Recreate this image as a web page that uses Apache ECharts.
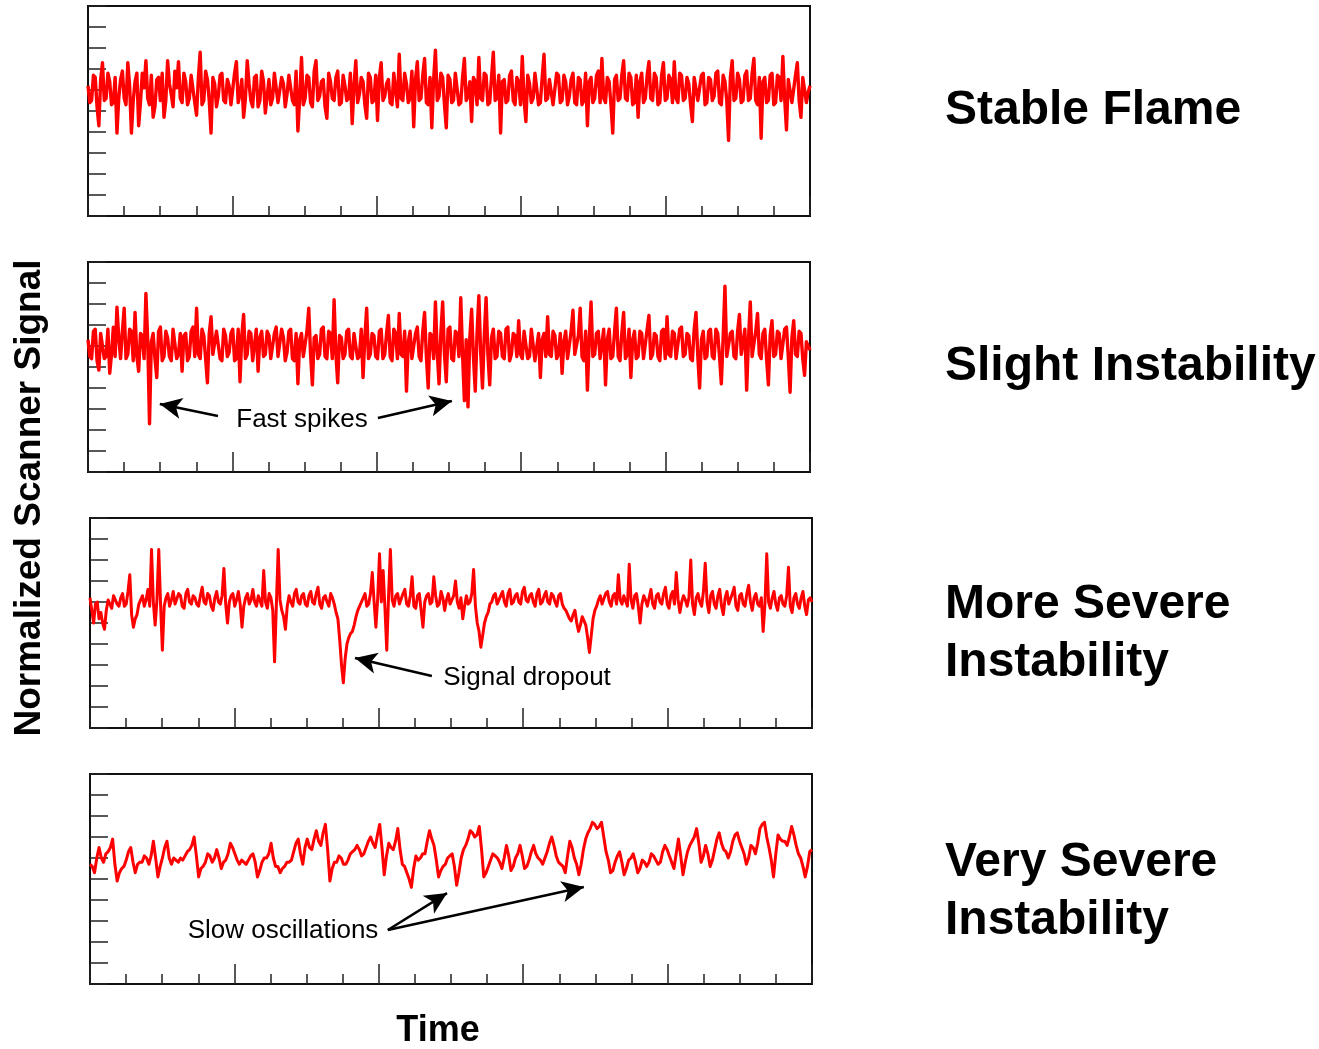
<!DOCTYPE html>
<html>
<head>
<meta charset="utf-8">
<script src="https://cdn.jsdelivr.net/npm/echarts@6/dist/echarts.min.js"></script>
<style>
  html, body { margin: 0; padding: 0; background: #fff; }
  #chart { width: 1319px; height: 1049px; }
</style>
</head>
<body>
<div id="chart"></div>
<script>
// panel names (right hand labels)
const panelNames = ["Stable Flame", "Slight Instability", "More Severe\nInstability", "Very Severe\nInstability"];
const yTitle = "Normalized Scanner Signal";
const xTitle = "Time";

// signal traces (normalized units, 0..10 scale)
// the *Mid arrays are readings taken between the main samples
const stable = [
  6.2,5.5,6.6,4.3,7.3,5.6,6.4,5.4,3.95,6.5, 5.6,7.3,3.95,6.4,4.3,6.8,7.4,5.3,4.7,6.5,
  5.5,4.7,7.4,5.8,6.9,7.35,5.4,6.4,5.6,6.7, 4.8,7.8,5.5,6.5,3.95,6.3,5.7,6.8,5.4,6.2,
  5.3,7.35,5.8,4.7,7.4,5.5,6.6,5.2,6.9,4.9, 6.5,5.6,6.8,5.4,6.3,5.8,6.7,5.3,4.05,7.55,
  5.6,6.6,5.2,7.4,5.7,6.5,4.65,6.4,5.5,6.9, 5.4,6.2,5.6,4.4,7.4,5.8,6.4,4.65,6.6,5.5,
  4.55,7.3,5.7,6.5,5.3,6.8,7.7,5.5,6.3,5.6, 4.25,7.35,5.6,7.5,5.3,4.2,7.9,5.7,6.6,4.2,
  6.5,5.5,6.8,5.4,7.5,5.7,4.5,6.4,7.55,5.5, 6.7,5.4,7.8,5.6,3.95,6.5,5.5,6.9,5.3,6.4,
  7.6,4.5,6.3,5.6,6.8,5.4,7.7,5.6,6.5,5.3, 6.7,5.5,6.4,5.7,6.8,5.3,6.5,5.5,4.3,6.6,
  5.6,6.9,7.5,5.4,6.4,3.95,6.7,5.6,7.4,5.5, 6.6,5.4,4.7,6.8,5.6,7.35,5.5,6.6,5.4,7.3,
  5.6,6.5,7.35,5.4,6.7,5.6,6.3,4.5,6.6,5.5, 6.8,5.4,6.5,5.7,6.9,5.3,6.4,3.6,7.4,5.6,
  6.5,5.5,6.9,5.6,7.5,5.3,3.7,6.6,5.5,6.8, 5.4,6.6,7.6,4.1,6.5,5.4,7.3,4.7,6.6,5.9
];
const stableMid = [
  5.4,6.7,5.2,6.5,5.5,6.8,5.3,6.6,5.6,6.9, 5.3,6.2,5.5,6.8,5.4,6.1,5.6,6.7,5.2,6.6,
  6.8,5.5,6.3,5.2,6.1,5.6,6.8,5.3,6.7,5.4, 6.6,5.3,6.9,5.5,6.6,5.2,6.7,5.5,6.5,5.3,
  6.8,5.4,6.5,5.6,6.3,5.2,6.7,5.5,6.4,5.7, 5.3,6.8,5.4,6.6,5.2,6.7,5.5,6.9,5.6,5.3,
  6.7,5.4,6.9,5.5,6.4,5.2,6.8,5.6,6.6,5.3, 6.7,5.5,6.8,6.2,5.4,6.6,5.3,6.8,5.4,6.7,
  6.6,5.5,6.3,5.4,6.8,5.2,5.6,6.8,5.4,6.9, 6.5,5.5,6.7,5.4,6.6,6.5,5.5,6.8,5.3,6.7,
  5.4,6.8,5.3,6.6,5.5,6.4,6.6,5.3,5.6,6.8, 5.3,6.6,5.5,6.7,6.4,5.4,6.7,5.5,6.6,5.3,
  5.5,6.7,5.4,6.8,5.3,6.6,5.5,6.5,5.3,6.8, 5.4,6.7,5.3,6.5,5.4,6.6,5.3,6.8,6.4,5.4,
  6.7,5.4,5.6,6.6,5.3,6.5,5.5,6.7,5.6,6.8, 5.3,6.7,6.4,5.4,6.7,5.6,6.8,5.3,6.7,5.5,
  6.7,5.4,5.6,6.8,5.5,6.6,5.3,6.6,5.5,6.7, 5.3,6.6,5.5,6.8,5.4,6.7,5.5,6.6,5.5,6.8,
  5.4,6.7,5.5,6.8,5.5,6.6,6.4,5.4,6.7,5.3, 6.7,5.5,5.6,6.5,5.4,6.7,5.5,6.6,5.4,6.2
];
const slight = [
  6.3,5.4,6.8,4.85,6.6,5.5,4.7,6.9,7.85,5.4, 7.8,5.6,6.7,7.6,4.8,6.5,8.5,2.3,6.6,4.5,
  6.9,5.5,6.4,5.3,6.8,5.6,4.8,6.6,5.5,6.9, 7.8,5.4,6.5,4.25,7.4,5.6,6.7,5.3,6.5,5.7,
  6.8,5.4,4.3,7.5,5.6,6.6,5.3,4.8,6.7,5.6, 6.5,5.4,6.9,5.5,6.4,5.7,6.8,5.3,4.2,6.6,
  5.5,7.8,4.15,6.5,5.6,6.9,5.4,6.6,8.2,4.25, 6.4,5.6,6.8,5.4,6.6,5.5,4.5,7.8,5.6,6.5,
  5.4,6.8,5.6,7.45,5.3,6.6,7.55,5.5,3.85,6.7, 5.4,6.9,5.3,7.6,4.0,6.5,8.1,4.2,8.1,4.3,
  6.9,5.3,6.6,8.3,3.4,3.1,7.75,3.85,8.4,4.0, 8.3,4.15,6.8,5.5,6.6,5.4,6.9,5.6,6.5,7.2,
  5.4,6.7,5.5,6.8,5.3,4.5,6.6,7.4,5.5,6.5, 5.6,4.7,6.7,5.4,7.7,5.6,7.8,5.3,3.9,8.1,
  5.6,6.7,5.4,4.15,6.8,5.5,7.8,5.3,7.6,5.6, 4.5,6.7,5.5,6.6,5.4,7.45,5.6,6.5,5.3,6.8,
  7.4,5.5,6.6,5.4,6.9,5.6,6.5,5.3,7.6,4.0, 6.7,5.5,6.8,5.4,6.6,4.2,8.85,5.5,6.7,5.4,
  7.5,5.6,3.9,8.1,5.5,7.55,5.4,6.8,4.15,7.2, 5.6,6.6,5.4,6.9,3.8,7.2,5.5,6.6,4.6,6.0
];
const slightMid = [
  5.5,6.7,5.3,6.6,5.4,6.8,5.6,5.5,6.4,6.7, 5.4,6.8,5.3,5.5,6.6,5.4,6.3,6.2,5.4,6.7,
  5.3,6.7,5.5,6.8,5.4,6.6,6.5,5.3,6.7,5.5, 5.6,6.8,5.4,6.6,5.6,6.7,5.4,6.8,5.5,6.6,
  5.3,6.8,6.5,5.4,6.7,5.3,6.8,6.4,5.5,6.7, 5.4,6.6,5.5,6.8,5.3,6.7,5.4,6.6,6.3,5.5,
  6.7,5.6,6.4,5.4,6.8,5.5,6.7,5.4,5.6,6.5, 5.4,6.7,5.5,6.6,5.4,6.8,6.4,5.4,6.6,5.5,
  6.7,5.4,6.6,5.5,6.8,5.4,5.6,6.7,6.2,5.4, 6.6,5.5,6.7,5.5,6.6,5.4,5.7,6.6,5.6,6.8,
  5.4,6.7,5.5,5.6,6.3,6.4,5.5,6.6,5.7,6.5, 5.6,6.4,5.4,6.7,5.5,6.8,5.3,6.6,5.5,5.6,
  6.7,5.4,6.8,5.3,6.6,6.3,5.5,5.6,6.7,5.4, 6.6,6.2,5.4,6.7,5.6,6.5,5.5,6.7,6.3,5.5,
  6.6,5.4,6.8,6.3,5.4,6.7,5.5,6.6,5.4,6.8, 6.3,5.4,6.7,5.4,6.8,5.4,6.6,5.5,6.7,5.4,
  5.6,6.7,5.4,6.8,5.5,6.6,5.4,6.8,5.5,6.3, 5.4,6.7,5.5,6.8,5.5,6.4,5.5,6.6,5.5,6.7,
  5.6,6.8,6.3,5.5,6.7,5.6,6.6,5.4,6.5,5.5, 6.7,5.4,6.8,5.5,6.4,5.6,6.7,5.4,6.2,5.8
];
const severe = [
  6.2,5.0,6.0,5.5,4.7,6.1,5.7,6.3,5.8,6.4, 5.9,7.3,4.8,5.4,6.1,5.8,6.6,8.5,4.9,8.5,
  3.7,6.2,5.8,6.5,5.9,6.3,5.7,6.6,5.9,6.2, 5.8,6.7,5.9,6.3,5.6,6.5,5.9,7.6,5.0,6.3,
  5.8,6.5,4.8,6.2,5.9,6.6,5.8,6.3,7.5,5.7, 6.2,3.15,8.5,5.6,4.7,6.3,5.8,6.6,5.9,6.4,
  5.8,6.5,5.9,6.7,5.7,6.3,5.8,6.2,5.5,4.2, 2.15,4.0,4.5,4.9,5.6,6.0,6.4,5.9,7.4,4.8,
  8.3,7.5,3.7,8.5,5.8,6.4,5.9,6.6,5.8,7.2, 5.7,6.4,4.8,6.3,5.9,7.2,5.8,6.5,5.6,6.4,
  5.9,7.0,5.7,5.2,6.3,6.0,7.55,5.0,3.85,5.0, 5.5,6.0,6.4,5.9,6.5,5.8,6.6,6.0,6.4,5.9,
  6.7,6.0,6.4,5.8,6.6,6.0,6.5,5.9,6.3,5.8, 6.4,5.7,5.4,5.1,5.6,4.6,5.3,4.9,3.6,5.2,
  5.8,6.3,5.9,6.5,5.8,6.4,7.3,5.9,6.3,7.8, 5.7,6.4,5.0,6.3,5.8,6.6,5.7,6.4,5.9,6.7,
  5.7,6.5,7.4,5.5,6.3,5.8,8.0,5.4,6.4,5.8, 7.85,5.5,6.5,5.7,6.6,5.4,6.5,5.9,6.7,5.6,
  6.4,5.8,6.8,5.6,6.4,5.8,4.6,8.3,5.7,6.5, 5.6,6.3,5.8,7.65,5.5,6.4,5.7,6.5,5.4,6.2
];
const severeMid = [
  5.6,5.9,5.2,5.0,5.6,5.9,6.3,5.9,6.2,5.8, 6.5,5.4,5.2,5.9,6.3,6.1,5.8,6.0,6.1,5.9,
  5.8,6.4,6.1,5.9,6.4,5.8,6.4,6.0,6.3,5.9, 6.3,6.0,6.4,5.8,6.2,6.0,6.3,5.9,6.0,6.4,
  6.1,5.9,5.8,6.4,6.1,6.0,6.3,5.8,6.0,6.4, 5.6,5.9,6.1,5.3,5.8,6.0,6.4,6.0,6.3,5.9,
  6.3,6.0,6.4,5.9,6.2,6.0,6.4,5.9,5.2,3.0, 3.3,4.3,4.6,5.3,5.8,6.2,5.8,6.4,6.0,6.2,
  6.0,5.7,6.3,6.1,6.3,5.9,6.4,5.9,6.3,5.8, 6.3,5.6,6.0,6.4,6.0,6.3,5.9,6.2,6.1,5.9,
  6.3,6.0,6.2,5.8,5.9,6.4,5.8,4.6,4.4,5.3, 5.9,6.3,5.9,6.3,6.0,6.4,5.9,6.3,6.0,6.5,
  6.1,6.3,6.0,6.4,5.9,6.3,6.0,6.4,6.0,6.3, 5.9,5.6,5.2,5.4,5.0,4.9,5.1,4.3,4.4,5.6,
  6.1,5.9,6.4,6.0,6.3,5.9,6.1,6.3,5.8,6.1, 6.3,5.8,5.9,6.1,6.2,5.9,6.3,6.0,6.4,5.9,
  6.3,5.9,6.1,6.0,6.1,6.2,5.9,6.2,6.0,6.5, 6.0,6.3,5.9,6.3,5.8,6.2,5.9,6.4,5.8,6.3,
  5.9,6.4,6.0,6.2,5.9,6.2,5.9,6.0,6.2,5.9, 6.2,5.9,6.3,5.8,6.2,5.9,6.2,5.8,6.1,6.0
];
const verySevere = [
  5.7,5.3,6.5,5.8,6.3,6.9,4.9,5.5,5.9,6.5, 5.3,5.8,6.1,5.7,6.8,5.1,6.0,6.8,5.7,5.9,
  6.0,6.1,6.4,7.0,5.1,5.6,6.2,5.8,6.4,5.5, 5.9,6.7,6.2,5.7,5.8,5.9,6.2,5.1,5.8,6.0,
  6.7,5.6,5.3,5.6,5.8,6.3,6.9,5.7,6.9,6.4, 7.3,6.6,7.6,4.9,5.8,6.1,5.7,5.9,6.3,6.6,
  6.1,6.5,7.0,6.5,7.6,5.2,6.7,6.4,7.4,5.7, 5.3,4.6,6.1,6.0,6.2,7.3,6.6,5.1,5.6,6.0,
  6.2,4.7,6.0,6.6,7.3,7.0,7.5,5.1,5.6,6.2, 6.0,5.5,6.6,5.4,6.0,6.6,5.5,5.9,6.6,6.0,
  5.7,6.3,7.0,6.1,5.7,5.3,6.8,6.0,5.2,6.4, 7.2,7.7,7.4,7.7,6.3,5.3,5.8,6.3,5.2,5.9,
  6.2,5.3,5.9,5.6,6.2,5.9,5.8,6.6,6.1,5.5, 6.9,5.2,6.3,6.8,7.4,5.8,6.6,5.6,6.4,7.2,
  6.4,6.0,6.8,7.2,6.5,5.7,6.6,6.2,7.4,7.7, 6.5,5.1,7.1,6.8,6.6,7.5,6.6,6.0,5.1,6.3
];
const verySevereMid = [
  5.6,6.0,6.0,6.2,6.5,5.7,5.3,5.6,6.3,5.8, 5.7,5.8,6.0,6.1,6.0,5.6,6.5,6.0,6.0,5.8,
  5.9,6.3,6.6,6.1,5.5,5.8,6.1,6.0,6.0,5.8, 6.2,6.5,5.9,5.9,5.7,6.1,5.8,5.4,6.0,6.2,
  6.0,5.6,5.5,5.8,5.9,6.7,6.2,6.5,6.5,6.9, 6.8,7.2,6.4,5.5,5.8,6.0,5.7,6.2,6.4,6.4,
  6.2,6.8,6.7,7.1,6.5,6.1,6.5,6.8,6.4,5.6, 5.0,5.5,5.9,6.2,6.8,6.9,5.9,5.4,5.7,6.1,
  5.6,5.3,6.4,6.9,7.2,7.1,6.4,5.3,5.9,6.1, 5.8,6.0,6.1,5.6,6.2,6.1,5.6,6.3,6.2,5.9,
  6.0,6.7,6.6,5.8,5.6,6.1,6.5,5.7,5.7,6.9, 7.4,7.6,7.5,7.0,5.9,5.4,6.1,5.8,5.5,6.0,
  5.8,5.5,5.8,5.8,6.1,5.7,6.3,6.4,5.8,6.2, 6.1,5.8,6.6,7.0,6.7,6.1,6.2,5.9,6.9,6.7,
  6.3,6.3,7.1,6.8,6.2,6.0,6.5,6.7,7.6,7.0, 5.9,6.2,6.9,6.8,7.0,7.1,6.2,5.6,5.6,6.4
];

// [main samples, in-between samples] per panel
const traces = [[stable, stableMid], [slight, slightMid], [severe, severeMid], [verySevere, verySevereMid]];

// annotation arrows, in data units of each panel: [panel, from, to]
const arrows = [
  [1, [36.0, 2.67], [19.9, 3.24]],
  [1, [80.3, 2.57], [100.8, 3.38]],
  [2, [94.7, 2.48], [73.4, 3.33]],
  [3, [82.5, 2.57], [98.9, 4.33]],
  [3, [82.5, 2.57], [136.8, 4.62]]
];

const chart = echarts.init(document.getElementById("chart"), null, { renderer: "canvas" });

const panelBoxes = [
  { left: 88, top: 6 },
  { left: 88, top: 262 },
  { left: 90, top: 518 },
  { left: 90, top: 774 }
];
const lineWidths = [3.4, 3.4, 3, 3];

const grid = panelBoxes.map(b => ({
  left: b.left, top: b.top, width: 722, height: 210,
  show: true, borderColor: "#111", borderWidth: 2, backgroundColor: "#fff"
}));

const xAxis = traces.map((_, k) => ({
  type: "value", gridIndex: k, min: 0, max: 200, interval: 40,
  axisLine: { show: false },
  axisLabel: { show: false },
  splitLine: { show: false },
  axisTick: { show: true, inside: true, length: 20, lineStyle: { color: "#222", width: 1.5 } },
  minorTick: { show: true, splitNumber: 4, length: 10, lineStyle: { color: "#222", width: 1.5 } }
}));

const yAxis = traces.map((_, k) => ({
  type: "value", gridIndex: k, min: 0, max: 10, interval: 1,
  axisLine: { show: false },
  axisLabel: { show: false },
  splitLine: { show: false },
  axisTick: { show: true, inside: true, length: 18, lineStyle: { color: "#222", width: 1.5 } }
}));

function merge(main, mid) {
  const out = [];
  main.forEach((v, i) => { out.push(v); out.push(mid[i]); });
  return out;
}

const series = traces.map(([main, mid], k) => {
  const vals = merge(main, mid);
  const n = vals.length;
  return {
    type: "line",
    xAxisIndex: k, yAxisIndex: k,
    data: vals.map((v, i) => [i * 200 / (n - 1), v]),
    showSymbol: false,
    animation: false,
    lineStyle: { color: "#ff0000", width: lineWidths[k], join: "round" },
    markLine: {
      silent: true,
      animation: false,
      symbol: ["none", "arrow"],
      symbolSize: [16, 22],
      label: { show: false },
      lineStyle: { color: "#000", width: 2.5, type: "solid" },
      data: arrows.filter(a => a[0] === k).map(a => [{ coord: a[1] }, { coord: a[2] }])
    }
  };
});

const font = "'Liberation Sans', Arial, sans-serif";
const labelY = [111, 367, 634, 892];
const graphic = [];
panelNames.forEach((name, k) => {
  graphic.push({
    type: "text", left: 945, top: labelY[k] - (name.includes("\n") ? 58 : 29),
    style: { text: name, font: "bold 48px " + font, fill: "#000", lineHeight: 58 }
  });
});
graphic.push(
  { type: "text", x: 30, y: 498, rotation: Math.PI / 2,
    style: { text: yTitle, font: "bold 37px " + font, fill: "#000", align: "center", verticalAlign: "middle" } },
  { type: "text", x: 438, y: 1031,
    style: { text: xTitle, font: "bold 36px " + font, fill: "#000", align: "center", verticalAlign: "middle" } },
  { type: "text", x: 302, y: 420,
    style: { text: "Fast spikes", font: "26px " + font, fill: "#000", align: "center", verticalAlign: "middle" } },
  { type: "text", x: 527, y: 678,
    style: { text: "Signal dropout", font: "26px " + font, fill: "#000", align: "center", verticalAlign: "middle" } },
  { type: "text", x: 283, y: 931,
    style: { text: "Slow oscillations", font: "26px " + font, fill: "#000", align: "center", verticalAlign: "middle" } }
);

chart.setOption({
  animation: false,
  backgroundColor: "#fff",
  grid, xAxis, yAxis, series, graphic
});
</script>
</body>
</html>
